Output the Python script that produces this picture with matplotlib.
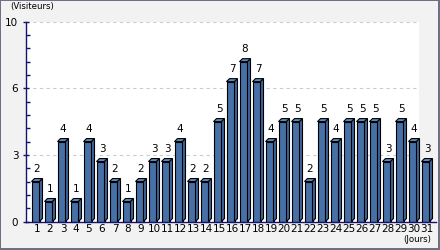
import matplotlib
matplotlib.use("Agg")
import matplotlib.pyplot as plt
from matplotlib.patches import Polygon, Rectangle

days = list(range(1, 32))
visits = [2, 1, 4, 1, 4, 3, 2, 1, 2, 3, 3, 4, 2, 2, 5, 7, 8, 7, 4, 5, 5, 2, 5, 4, 5, 5, 5, 3, 5, 4, 3]
ytick_vals = [0, 10 / 3, 20 / 3, 10]
ytick_labels = ["0", "3", "6", "10"]

W, H = 440, 250
fig = plt.figure(figsize=(W / 100, H / 100), dpi=100)
fig.patch.set_facecolor("#f2f2f2")

# pixel geometry
ax_left_px, ax_right_px = 26, 436
y0_px, y10_px = 221.5, 21.7
slot_px = 13.0
bar1_center_px = 35.5

ax = fig.add_axes([ax_left_px / W, (H - y0_px) / H,
                   (ax_right_px - ax_left_px) / W, (y0_px - y10_px) / H])
ax.set_facecolor("none")
xmin = 1 - (bar1_center_px - ax_left_px) / slot_px
xmax = 1 + (ax_right_px - bar1_center_px) / slot_px
ax.set_xlim(xmin, xmax)
ax.set_ylim(0, 10)

# white plotting region (ends before last bar)
white_right_px = 419
white_right = 1 + (white_right_px - bar1_center_px) / slot_px
ax.add_patch(Rectangle((xmin, 0), white_right - xmin, 10, facecolor="white",
                       edgecolor="none", zorder=0))
for yv in ytick_vals[1:]:
    ax.plot([xmin, white_right], [yv, yv], color="#cccccc", lw=0.8,
            dashes=(3, 3), zorder=0.5)

bw = 8 / slot_px
dx = 3 / slot_px
dy = 3 / ((y0_px - y10_px) / 10)
front_c, top_c, side_c = "#4670a6", "#6089bd", "#3d6498"
for d, v in zip(days, visits):
    x0 = d - bw / 2
    ax.add_patch(Rectangle((x0, 0), bw, v, facecolor=front_c, edgecolor="black",
                           lw=0.8, zorder=3, clip_on=False))
    ax.add_patch(Polygon([(x0, v), (x0 + bw, v), (x0 + bw + dx, v + dy), (x0 + dx, v + dy)],
                         closed=True, facecolor=top_c, edgecolor="black", lw=0.8,
                         zorder=3, clip_on=False))
    ax.add_patch(Polygon([(x0 + bw, 0), (x0 + bw + dx, min(dy, v)), (x0 + bw + dx, v + dy), (x0 + bw, v)],
                         closed=True, facecolor=side_c, edgecolor="black", lw=0.8,
                         zorder=3, clip_on=False))
    ax.text(d + dx / 2, v + dy + 0.25, str(v), ha="center", va="bottom",
            fontsize=7.5, color="black", zorder=4)

navy = "#14146e"
for s in ["top", "right"]:
    ax.spines[s].set_visible(False)
ax.spines["left"].set_color(navy)
ax.spines["bottom"].set_color(navy)
ax.spines["left"].set_linewidth(1)
ax.spines["bottom"].set_linewidth(1)
ax.spines["bottom"].set_zorder(5)

ax.set_yticks(ytick_vals)
ax.set_yticklabels(ytick_labels, fontsize=7.5)
ax.set_yticks([i * 2 / 3 for i in range(16) if i % 5 != 0], minor=True)
ax.tick_params(axis="y", which="major", direction="inout", length=5, width=1,
               color=navy, pad=3)
ax.tick_params(axis="y", which="minor", direction="in", length=3, width=1,
               color=navy)
ax.set_xticks([d + dx / 2 for d in days])
ax.set_xticklabels([str(d) for d in days], fontsize=7.5)
ax.tick_params(axis="x", length=0, pad=2)

fig.text(10 / W, 1 - 7 / H, "(Visiteurs)", fontsize=6.2, ha="left", va="center")
fig.text(431 / W, 1 - 240 / H, "(Jours)", fontsize=6.2, ha="right", va="center")

# frame
fc = "#6e7181"
fig.patches.append(Rectangle((0, 0), 1 / W, 1, transform=fig.transFigure, facecolor=fc, edgecolor="none"))
fig.patches.append(Rectangle((0, 1 - 1 / H), 1, 1 / H, transform=fig.transFigure, facecolor=fc, edgecolor="none"))
fig.patches.append(Rectangle((1 - 2.5 / W, 0), 2.5 / W, 1, transform=fig.transFigure, facecolor=fc, edgecolor="none"))
fig.patches.append(Rectangle((0, 0), 1, 2.5 / H, transform=fig.transFigure, facecolor=fc, edgecolor="none"))

fig.savefig("out.png", dpi=100, facecolor=fig.get_facecolor())
